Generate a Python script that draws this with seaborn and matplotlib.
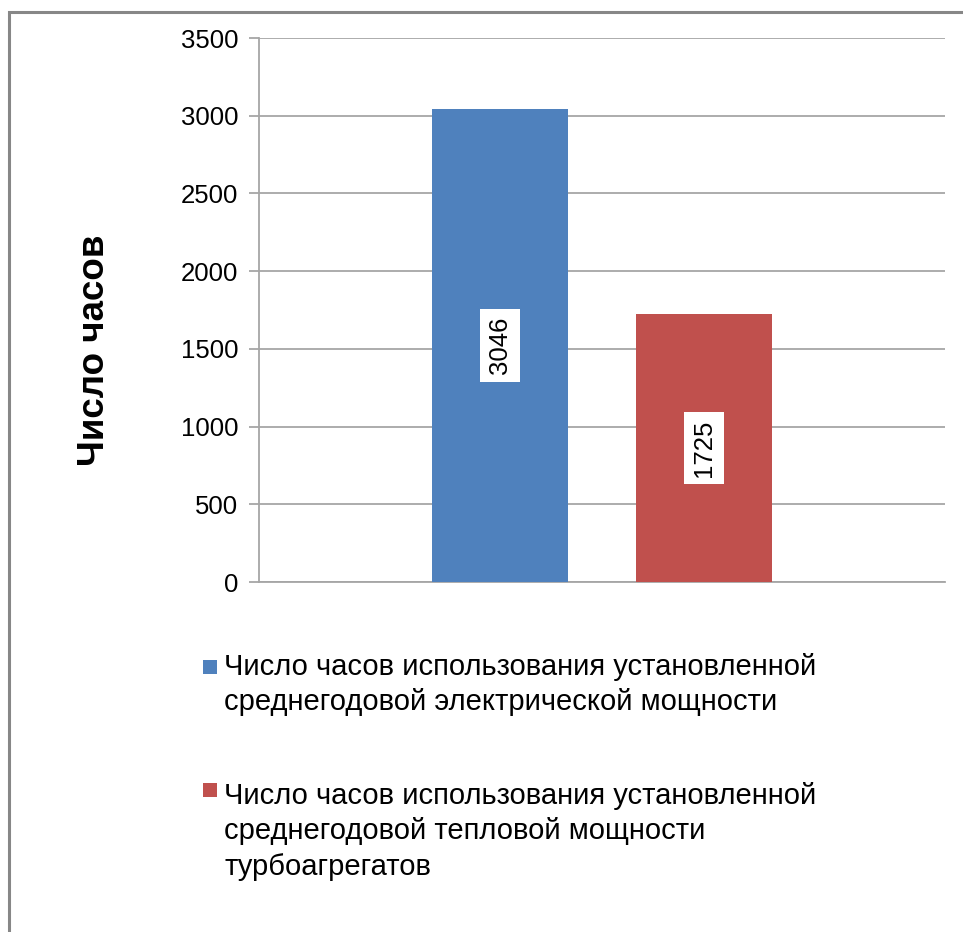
import matplotlib
matplotlib.use("Agg")
import matplotlib.pyplot as plt
from matplotlib.patches import Rectangle
import seaborn as sns
import pandas as pd

# Data
series = [
    "Число часов использования установленной\nсреднегодовой электрической мощности",
    "Число часов использования установленной\nсреднегодовой тепловой мощности\nтурбоагрегатов",
]
values = [3046, 1725]
colors = ["#4F81BD", "#C0504D"]
yticks = [0, 500, 1000, 1500, 2000, 2500, 3000, 3500]

sns.set_theme(style="white")
plt.rcParams["font.family"] = ["Liberation Sans", "DejaVu Sans"]

df = pd.DataFrame({"group": ["" for _ in values], "series": series, "value": values})

W, H = 963, 932
fig = plt.figure(figsize=(W / 100, H / 100), dpi=100)
fig.patch.set_facecolor("white")

# Outer chart frame
fig.patches.append(Rectangle((9 / W, -0.1), 1.2, 1.1 - 12 / H,
                             transform=fig.transFigure, fill=False,
                             edgecolor="#878787", linewidth=2.2, zorder=0))

left, right, top, bottom = 259, 945, 38, 582
ax = fig.add_axes([left / W, 1 - bottom / H, (right - left) / W, (bottom - top) / H])

sns.barplot(data=df, x="group", y="value", hue="series", palette=colors,
            width=0.595, gap=0.337, legend=False, ax=ax, saturation=1,
            edgecolor="none", zorder=3)

ax.set_xlim(-0.5, 0.5)
ax.set_ylim(0, 3500)
ax.set_yticks(yticks)
ax.set_yticklabels([str(t) for t in yticks], fontsize=18.5, color="black")
ax.set_xticks([])
ax.set_xlabel("")
ax.set_ylabel("")
ax.yaxis.grid(True, color="#A6A6A6", linewidth=1.3, zorder=0)
ax.set_axisbelow(True)
for s in ["top", "right"]:
    ax.spines[s].set_visible(False)
ax.spines["left"].set_color("#A6A6A6")
ax.spines["left"].set_linewidth(1.3)
ax.spines["bottom"].set_color("#A6A6A6")
ax.spines["bottom"].set_linewidth(1.3)
ax.tick_params(axis="y", left=True, length=7, width=1.3, color="#A6A6A6", pad=8)

# Value labels inside the bars
for patch, v in zip(ax.patches, values):
    cx = patch.get_x() + patch.get_width() / 2
    ax.text(cx, v / 2, str(v), rotation=90, ha="center", va="center",
            fontsize=18.5, color="black", zorder=5,
            bbox=dict(boxstyle="square,pad=0.3", facecolor="white", edgecolor="none"))

fig.text(95 / W, 1 - 350 / H, "Число часов", rotation=90, ha="center", va="center",
         fontsize=26.5, fontweight="bold", color="black")

# Legend drawn as swatches with wrapped captions
swatch_tops = [660, 783]
text_tops = [653, 782]
for lab, c, sy, ty in zip(series, colors, swatch_tops, text_tops):
    fig.patches.append(Rectangle((203 / W, 1 - (sy + 14) / H), 14 / W, 14 / H,
                                 transform=fig.transFigure, facecolor=c,
                                 edgecolor="none"))
    fig.text(224 / W, 1 - ty / H, lab, ha="left", va="top", fontsize=21,
             color="black", linespacing=1.33)

fig.savefig("out.png", dpi=100, facecolor="white")
